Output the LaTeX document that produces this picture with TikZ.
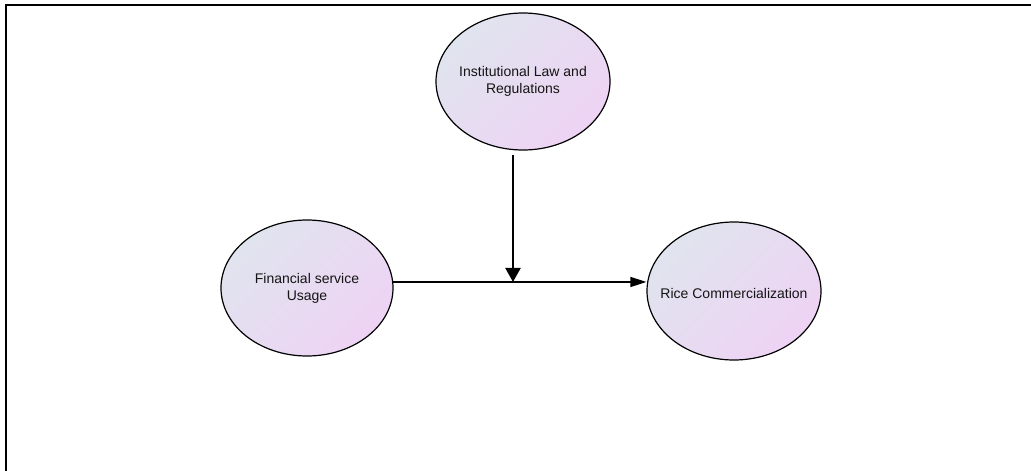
\documentclass[tikz,border=0pt]{standalone}
\usepackage{fontspec}
\setmainfont{Liberation Sans}
\usetikzlibrary{shapes.geometric,arrows.meta}
\definecolor{ellA}{RGB}{224,228,238}
\definecolor{ellB}{RGB}{238,211,244}
\definecolor{txt}{RGB}{20,20,20}
\tikzset{
  oval/.style={ellipse, draw=black, line width=1.2pt, inner sep=0pt,
    top color=ellA, bottom color=ellB, shading angle=45},
  lbl/.style={align=center, text=txt, font=\fontsize{14}{16.8}\selectfont, inner sep=0pt},
  thinarrow/.style={line width=1.4pt, -{Triangle[length=16pt,width=10pt]}},
  thickarrow/.style={line width=2.3pt, -{Triangle[length=14pt,width=15pt]}},
  frame/.style={line width=2.5pt, line cap=rect}
}
\begin{document}
\begin{tikzpicture}[x=1pt,y=-1pt]
\useasboundingbox (0,0) rectangle (1031,471);
% frame (top and left only)
\draw[frame] (6,471) -- (6,5) -- (1031,5);
% ellipses
\node[oval, minimum width=174pt, minimum height=137pt] (inst) at (523,81.5) {};
\node[oval, minimum width=172pt, minimum height=136pt] (fin) at (307,288) {};
\node[oval, minimum width=174pt, minimum height=138pt] (rice) at (734,291) {};
% labels
\node[lbl] (instl) at (inst.center) {Institutional Law and\\Regulations};
\node[lbl] (finl) at (fin.center) {Financial service\\Usage};
\node[lbl] (ricel) at ([yshift=-2pt]rice.center) {Rice Commercialization};
% connectors
\coordinate (hs) at (fin.4);
\coordinate (he) at (hs -| rice.west);
\draw[thinarrow] (hs) -- (he);
\coordinate (vs) at (513,155);
\coordinate (ve) at (vs |- hs);
\draw[thickarrow] (vs) -- (ve);
\end{tikzpicture}
\end{document}
